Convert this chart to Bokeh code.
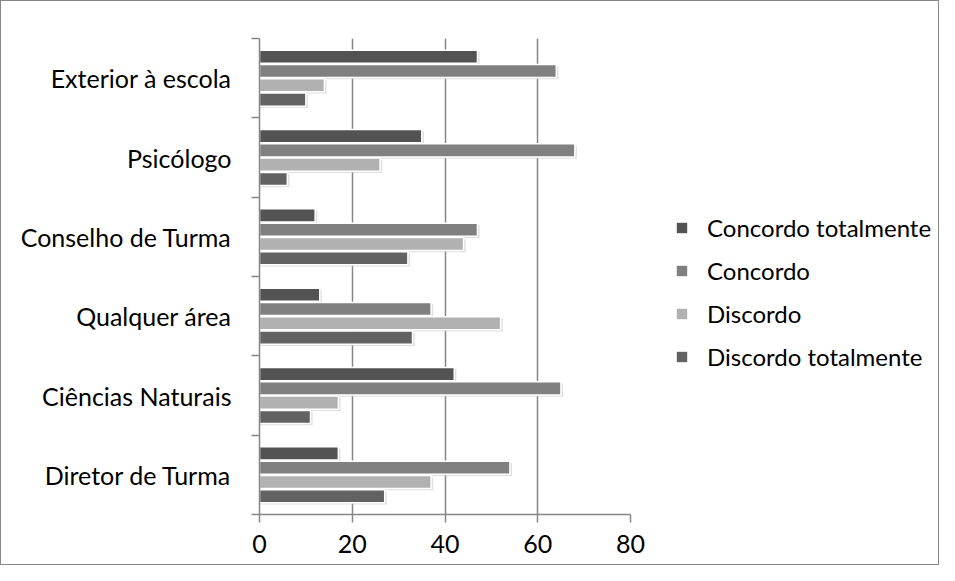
import numpy as np
from bokeh.plotting import figure
from bokeh.layouts import row
from bokeh.models import FixedTicker, Legend, LegendItem, ColumnDataSource
from bokeh.embed import file_html
from bokeh.resources import INLINE

# ---- data ----
categories = ["Diretor de Turma", "Ciências Naturais", "Qualquer área",
              "Conselho de Turma", "Psicólogo", "Exterior à escola"]
series_names = ["Concordo totalmente", "Concordo", "Discordo", "Discordo totalmente"]
concordo_totalmente = [17, 42, 13, 12, 35, 47]
concordo = [54, 65, 37, 47, 68, 64]
discordo = [37, 17, 52, 44, 26, 14]
discordo_totalmente = [27, 11, 33, 32, 6, 10]
x_ticks = [0, 20, 40, 60, 80]

# ---- styles ----
colors = ["#535353", "#808080", "#b1b1b1", "#626262"]
offsets = [0.27, 0.09, -0.09, -0.27]
bar_h = 0.165
FONT = "Lato"
FS = "25px"
GRAY = "#868686"

values = [concordo_totalmente, concordo, discordo, discordo_totalmente]
centers = np.arange(len(categories)) + 0.5

p = figure(width=658, height=563, x_range=(0, 80), y_range=(0, len(categories)),
           output_backend="svg", toolbar_location=None,
           min_border_left=258, min_border_right=29,
           min_border_top=37, min_border_bottom=50)
p.outline_line_color = None

# soft shadows under the bars
for vals, off in zip(values, offsets):
    src = ColumnDataSource(dict(y=centers + off - 0.022, right=np.array(vals) + 0.45))
    p.hbar(y="y", right="right", left=0, height=bar_h, source=src,
           fill_color="#c8c8c8", fill_alpha=0.6, line_color=None)

for name, vals, col, off in zip(series_names, values, colors, offsets):
    src = ColumnDataSource(dict(y=centers + off, right=vals))
    p.hbar(y="y", right="right", left=0, height=bar_h, source=src,
           fill_color=col, line_color="white", line_width=1.5)

# x axis
p.xaxis.ticker = FixedTicker(ticks=x_ticks)
p.xaxis.axis_line_color = GRAY
p.xaxis.axis_line_width = 1.5
p.xaxis.major_tick_line_color = GRAY
p.xaxis.major_tick_line_width = 1.5
p.xaxis.major_tick_in = 0
p.xaxis.major_tick_out = 8
p.xaxis.minor_tick_line_color = None
p.xaxis.major_label_text_font = FONT
p.xaxis.major_label_text_font_size = FS
p.xaxis.major_label_text_color = "black"
p.xaxis.major_label_standoff = 12

# y axis: labels at category centers, tick marks at boundaries
p.yaxis.ticker = FixedTicker(ticks=list(centers),
                             minor_ticks=list(range(len(categories) + 1)))
p.yaxis.major_label_overrides = {float(c): lab for c, lab in zip(centers, categories)}
p.yaxis.axis_line_color = GRAY
p.yaxis.axis_line_width = 1.5
p.yaxis.major_tick_line_color = None
p.yaxis.major_tick_in = 0
p.yaxis.major_tick_out = 0
p.yaxis.minor_tick_line_color = GRAY
p.yaxis.minor_tick_line_width = 1.5
p.yaxis.minor_tick_in = 0
p.yaxis.minor_tick_out = 8
p.yaxis.major_label_text_font = FONT
p.yaxis.major_label_text_font_size = FS
p.yaxis.major_label_text_color = "black"
p.yaxis.major_label_standoff = 20

p.xgrid.grid_line_color = GRAY
p.xgrid.grid_line_width = 1.5
p.ygrid.grid_line_color = None

# legend panel (legend glyphs come from renderers kept out of view)
pl = figure(width=279, height=563, x_range=(-101, -100), y_range=(100, 101),
            output_backend="svg", toolbar_location=None,
            x_axis_type=None, y_axis_type=None,
            min_border_left=0, min_border_right=0, min_border_top=0, min_border_bottom=0)
pl.outline_line_color = None
pl.border_fill_color = "white"
pl.background_fill_color = "white"
items = []
for name, vals, col, off in zip(series_names, values, colors, offsets):
    src = ColumnDataSource(dict(y=centers + off, right=vals))
    r = pl.hbar(y="y", right="right", left=0, height=bar_h, source=src,
                fill_color=col, line_color=None)
    items.append(LegendItem(label=name, renderers=[r]))

legend = Legend(items=items, location=(16, 143))
legend.border_line_color = None
legend.background_fill_alpha = 0
legend.padding = 0
legend.margin = 0
legend.glyph_width = 13
legend.glyph_height = 13
legend.label_height = 30
legend.spacing = 13
legend.label_standoff = 19
legend.label_text_font = FONT
legend.label_text_font_size = "24px"
legend.label_text_color = "black"
pl.add_layout(legend)

layout = row(p, pl, styles={"border": "1px solid #868686"})

open("out.html", "w").write(file_html(layout, INLINE))
